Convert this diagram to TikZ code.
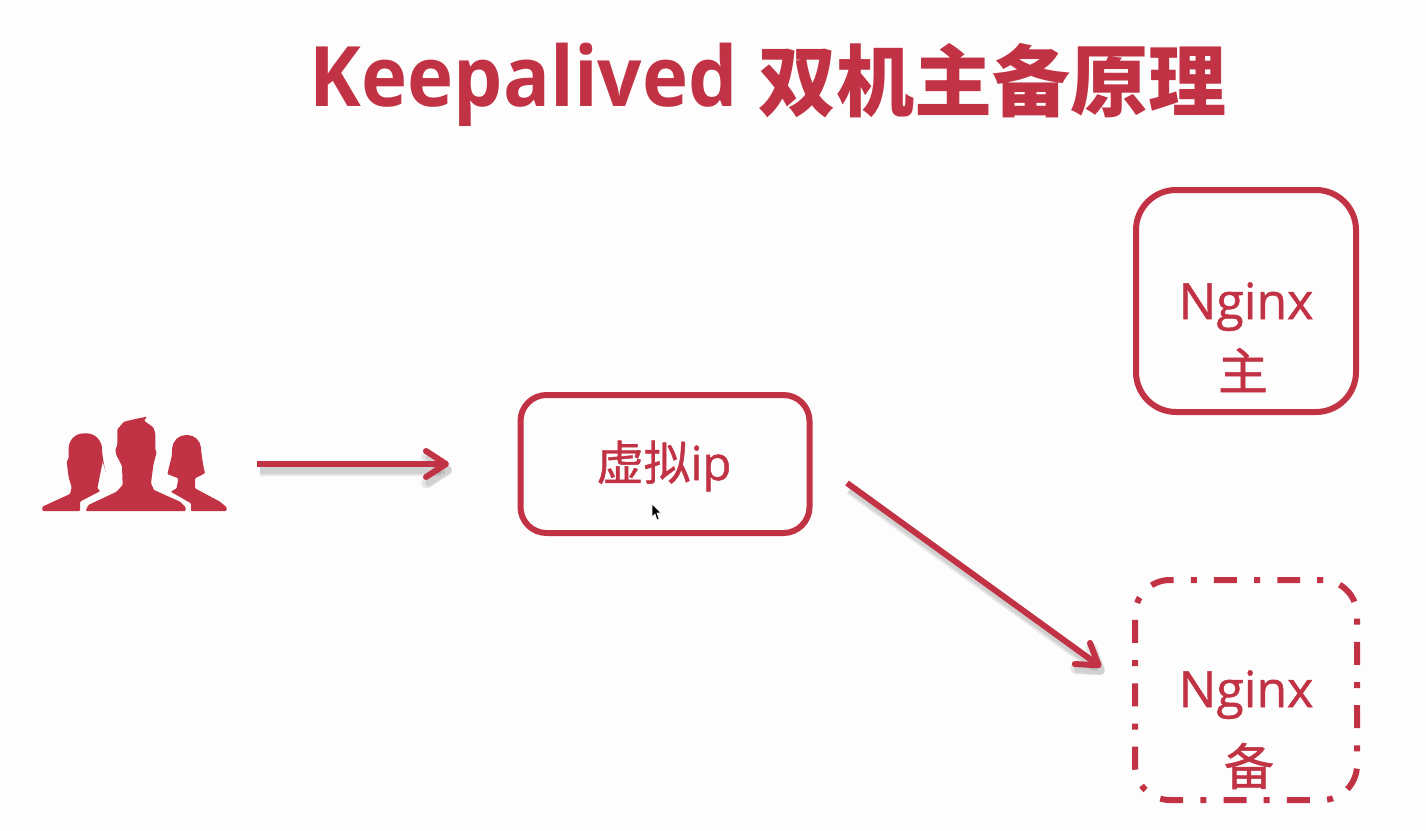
\documentclass[tikz,border=0pt]{standalone}
\usepackage{fontspec}
\setmainfont{Open Sans}
\newfontfamily\cjk{Noto Sans CJK SC}
\newfontfamily\wordlatin[FakeBold=1]{Open Sans}
\newfontfamily\wordcjk[FakeBold=1]{Noto Sans CJK SC}
\usetikzlibrary{arrows.meta}
\definecolor{brick}{HTML}{C13344}
\definecolor{paper}{HTML}{FEFDFD}

\begin{document}
\begin{tikzpicture}[x=1pt,y=-1pt,
  box/.style = {draw=brick,line width=6pt,rounded corners=#1,minimum width=220pt},
  word/.style = {text=brick,inner sep=0pt,font=\wordlatin\fontsize{50}{60}\selectfont},
  flow/.style = {draw=brick,line width=6pt,-{Straight Barb[length=20pt,width=26pt,line width=6pt,round]}},
  flowshade/.style = {draw=black,opacity=.09,line width=#1,-{Straight Barb[length=20pt,width=26pt,line width=#1,round]},transform canvas={shift={(3pt,-6pt)}}},
  person/.style = {fill=brick,rounded corners=1pt}]
\fill[paper] (0,0) rectangle (1426,830);
\useasboundingbox (0,0) rectangle (1426,830);

\node (title) [text=brick,anchor=base,inner sep=0pt,font=\fontsize{78}{90}\bfseries\selectfont] at (768,106) {\scalebox{1}[1.07]{Keepalived} {\cjk\raisebox{-4pt}{双机主备原理}}};

\node[box=40pt,minimum height=222pt] (master) at (1246,301) {};
\node[minimum width=222pt,minimum height=220pt,inner sep=0pt,outer sep=0pt] (backup) at (1246,690) {};
\node[box=26pt,minimum width=289pt,minimum height=138pt] (vip) at (665,464) {};
\node[word,font=\wordlatin\fontsize{47}{60}\selectfont] (viptext) at (664,466) {{\wordcjk 虚拟}ip};
\node[word,anchor=base] (mastername) at (1246,319) {Nginx};
\node[word] (masterrole) at (1243,370) {\wordcjk 主};
\node[word,anchor=base] (backupname) at (1246,707) {Nginx};
\node[word] (backuprole) at (1249,766) {\wordcjk 备};

\draw[draw=brick,line width=6pt,rounded corners=35pt,dash pattern=on 23pt off 17.2pt on 6pt off 17.2pt,dash phase=4pt] (backup.north) -- (backup.north east) -- (backup.south east) -- (backup.south west) -- (backup.north west) -- cycle;

\node (users) [minimum width=185pt,minimum height=94pt,inner sep=0pt] at (134,464) {};
\coordinate (users-out) at (257,464);
\coordinate (vip-in) at (449,464);
\coordinate (vip-out) at (847,483);
\coordinate (backup-in) at (1101,667);

\draw[flowshade=11pt] (users-out) -- (vip-in);
\draw[flowshade=7pt] (users-out) -- (vip-in);
\draw[flowshade=11pt] (vip-out) -- (backup-in);
\draw[flowshade=7pt] (vip-out) -- (backup-in);
\draw[flow] (users-out) -- (vip-in);
\draw[flow] (vip-out) -- (backup-in);

\begin{scope}[shift={(20,390)},scale=1/3]
\fill[person] (197,363) -- (205,345) -- (290,305) -- (308,285) -- (306,228) -- (289,195) -- (286,180) -- (292,165) -- (292,118) -- (312,95) -- (350,86) -- (381,80) -- (372,92) -- (400,112) -- (406,130) -- (406,180) -- (410,186) -- (400,225) -- (393,280) -- (402,300) -- (480,335) -- (497,352) -- (497,363) -- cycle;
\fill[person] (67,363) -- (67,350) -- (150,312) -- (155,292) -- (146,262) -- (140,215) -- (146,205) [rounded corners=15pt] -- (146,130) -- (245,130) -- (245,205) [rounded corners=1pt] -- (248,215) -- (238,265) -- (232,295) -- (241,303) -- (180,335) -- (180,363) -- cycle;
\fill[person] (513,363) -- (513,340) -- (452,305) -- (470,295) -- (475,265) -- (442,252) -- (455,200) [rounded corners=13pt] -- (459,135) -- (541,135) -- (545,210) [rounded corners=1pt] -- (555,250) -- (525,265) -- (525,295) -- (600,335) -- (620,352) -- (620,363) -- cycle;
\end{scope}

\draw[fill=black,draw=white,line width=.6pt] (652,504) -- (652,517) -- (655,514) -- (657,520) -- (659,519) -- (657,513) -- (661,513) -- cycle;
\end{tikzpicture}
\end{document}
